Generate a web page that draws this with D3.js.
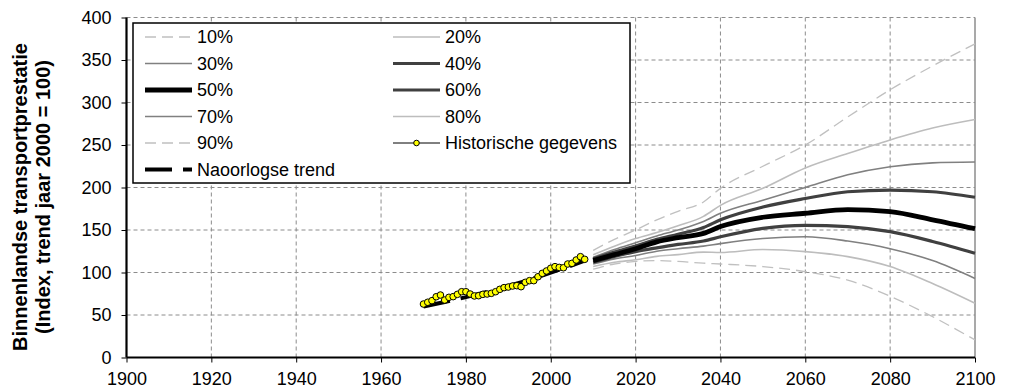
<!DOCTYPE html>
<html><head><meta charset="utf-8">
<script src="https://cdn.jsdelivr.net/npm/d3@7"></script>
<style>body{margin:0;background:#fff}svg{display:block}text{font-family:"Liberation Sans",Arial,sans-serif}</style>
</head><body>
<script>
const xTicks = [1900,1920,1940,1960,1980,2000,2020,2040,2060,2080,2100];
const yTicks = [0,50,100,150,200,250,300,350,400];

const histYears = d3.range(1970, 2009);
const histValues = [62.9,65,66.9,71.5,73.5,67.6,70.8,71.6,74.3,77.4,77.4,74.7,72.4,72.7,74.3,74.7,75.5,77.4,80.2,82.2,82.9,84.1,84.5,83.3,88.4,90.4,90.4,95,99,101.8,105,106.9,106,105.6,110,110.8,114.7,118.6,115.5];

const trendYears = [1970,1975,1980,1985,1990,1995,2000,2005,2008];
const trendValues = [60,65.3,71,77.3,84.1,91.5,100,108.5,114];

const fanYears = [2010,2015,2020,2025,2030,2036,2040,2050,2060,2070,2080,2090,2100];
const p10 = [104,110,113,114,113,111,110,107,101,91,72,48,20.7];
const p20 = [107,112,115,119,121,124,123.5,127,124.6,118.7,107,87,63.8];
const p30 = [110,116,120,125,128,131,134,140,142,137,128,114,93];
const p40 = [112,119,124.6,129,133,137,142,152,155.5,154,148,136.5,122.6];
const p50 = [114,121,128,136,141,146,154,165,169.7,174,171.5,162,151.5];
const p60 = [116,124,131,139,145,153,162,177,187,195,197,195,188.5];
const p70 = [118,127,135,143,150,160,169.6,185,200,215,224.5,229,230];
const p80 = [121,131,140,147,155,166,179,199,223,240,256,270,280];
const p90 = [126,139,150,162,172,183,199,225,250,283,315,343,369];

const seriesNames = ["10%","20%","30%","40%","50%","60%","70%","80%","90%"];
const seriesValues = [p10,p20,p30,p40,p50,p60,p70,p80,p90];
const styles = {
  "10%":{c:"#c0c0c0",w:1.3,d:"11,6"},
  "20%":{c:"#bdbdbd",w:1.6,d:null},
  "30%":{c:"#808080",w:1.6,d:null},
  "40%":{c:"#404040",w:3.2,d:null},
  "50%":{c:"#000000",w:4.8,d:null},
  "60%":{c:"#404040",w:3.2,d:null},
  "70%":{c:"#808080",w:1.6,d:null},
  "80%":{c:"#bdbdbd",w:1.6,d:null},
  "90%":{c:"#c0c0c0",w:1.3,d:"11,6"}
};

const W = 1011, H = 391;
const L = 126.5, R = 975, T = 17.5, B = 357.5;
const FS = 18;
const svg = d3.select("body").append("svg").attr("width", W).attr("height", H);
const x = d3.scaleLinear().domain([1900,2100]).range([L,R]);
const y = d3.scaleLinear().domain([0,400]).range([B,T]);

// grid
const grid = svg.append("g");
grid.selectAll(".vg").data(xTicks.filter(t=>t>1900 && t<2100)).join("line")
  .attr("x1",d=>x(d)).attr("x2",d=>x(d)).attr("y1",T).attr("y2",B)
  .attr("stroke","#8c8c8c").attr("stroke-width",1).attr("stroke-dasharray","4,3");
grid.selectAll(".hg").data(yTicks.filter(t=>t>0)).join("line")
  .attr("x1",L).attr("x2",R).attr("y1",d=>y(d)).attr("y2",d=>y(d))
  .attr("stroke","#8c8c8c").attr("stroke-width",1).attr("stroke-dasharray","4,3");
grid.append("line").attr("x1",x(2100)).attr("x2",x(2100)).attr("y1",T).attr("y2",B)
  .attr("stroke","#8c8c8c").attr("stroke-width",1.5);

// fan
const line = d3.line().curve(d3.curveMonotoneX);
const drawOrder = ["10%","90%","20%","80%","30%","70%","40%","60%","50%"];
drawOrder.forEach(n=>{
  const vals = seriesValues[seriesNames.indexOf(n)];
  const s = styles[n];
  svg.append("path")
    .attr("d", line(fanYears.map((yr,i)=>[x(yr), y(vals[i])])))
    .attr("fill","none").attr("stroke",s.c).attr("stroke-width",s.w)
    .attr("stroke-dasharray",s.d).attr("stroke-linejoin","round");
});

// trend
svg.append("path")
  .attr("d", d3.line()(trendYears.map((yr,i)=>[x(yr), y(trendValues[i])])))
  .attr("fill","none").attr("stroke","#000").attr("stroke-width",4).attr("stroke-dasharray","27,11");

// historical
svg.append("path")
  .attr("d", d3.line()(histYears.map((yr,i)=>[x(yr), y(histValues[i])])))
  .attr("fill","none").attr("stroke","#000").attr("stroke-width",1);
svg.selectAll(".hp").data(histYears).join("circle")
  .attr("cx",d=>x(d)).attr("cy",(d,i)=>y(histValues[i])).attr("r",3.3)
  .attr("fill","#ffff00").attr("stroke","#000").attr("stroke-width",1);

// axes
const xAxis = svg.append("g").attr("transform",`translate(0,${B})`)
  .call(d3.axisBottom(x).tickValues(xTicks).tickFormat(d3.format("d")).tickSize(5).tickPadding(10));
const yAxis = svg.append("g").attr("transform",`translate(${L},0)`)
  .call(d3.axisLeft(y).tickValues(yTicks).tickSize(5).tickPadding(10));
[xAxis,yAxis].forEach(a=>{
  a.select(".domain").attr("stroke","#000").attr("stroke-width",2.2);
  a.selectAll(".tick line").attr("stroke","#000").attr("stroke-width",1);
  a.selectAll(".tick text").attr("font-size",FS).attr("fill","#000").attr("font-family","Liberation Sans, Arial, sans-serif");
});
xAxis.select(".domain").attr("d",`M${L},0H${R}`);
yAxis.select(".domain").attr("d",`M0,${B}V${T}`);

// y title
const cy = 197;
svg.append("text").attr("transform",`translate(20,${cy}) rotate(-90)`)
  .attr("text-anchor","middle").attr("dominant-baseline","central")
  .attr("font-weight","bold").attr("font-size",20).attr("fill","#000")
  .text("Binnenlandse transportprestatie");
svg.append("text").attr("transform",`translate(42.5,${cy}) rotate(-90)`)
  .attr("text-anchor","middle").attr("dominant-baseline","central")
  .attr("font-weight","bold").attr("font-size",20).attr("fill","#000")
  .text("(Index, trend jaar 2000 = 100)");

// legend
const lg = svg.append("g");
lg.append("rect").attr("x",133).attr("y",23).attr("width",497).attr("height",160)
  .attr("fill","#fff").attr("stroke","#000").attr("stroke-width",1.5);
const legendItems = ["10%","20%","30%","40%","50%","60%","70%","80%","90%","Historische gegevens","Naoorlogse trend"];
const rowY = [37,63.5,90,116.5,143,169.5];
legendItems.forEach((n,i)=>{
  const col = i===10 ? 0 : i%2, row = i===10 ? 5 : Math.floor(i/2);
  const x0 = col===0 ? 145 : 393, x1 = x0 + 47, yy = rowY[row];
  if (styles[n]) {
    const s = styles[n];
    lg.append("line").attr("x1",x0).attr("x2",x1).attr("y1",yy).attr("y2",yy)
      .attr("stroke",s.c).attr("stroke-width",s.w).attr("stroke-dasharray",s.d);
  } else if (n==="Historische gegevens") {
    lg.append("line").attr("x1",x0).attr("x2",x1).attr("y1",yy).attr("y2",yy).attr("stroke","#000").attr("stroke-width",1);
    lg.append("circle").attr("cx",(x0+x1)/2).attr("cy",yy).attr("r",2.8).attr("fill","#ffff00").attr("stroke","#000").attr("stroke-width",1);
  } else {
    lg.append("line").attr("x1",x0).attr("x2",x1).attr("y1",yy).attr("y2",yy)
      .attr("stroke","#000").attr("stroke-width",4).attr("stroke-dasharray","27,11");
  }
  lg.append("text").attr("x",x1+5).attr("y",yy).attr("dy","0.35em").attr("font-size",FS).attr("fill","#000").text(n);
});
</script>
</body></html>
